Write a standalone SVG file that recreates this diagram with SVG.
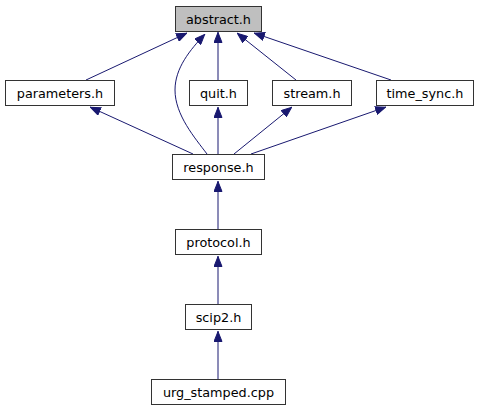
<svg xmlns="http://www.w3.org/2000/svg" width="480" height="411" viewBox="0 0 480 411">
<style>
.box{fill:#ffffff;stroke:#333333;stroke-width:1}
.root{fill:#bfbfbf}
.lbl{font-family:"DejaVu Sans",sans-serif;font-size:12.8px;fill:#000000;text-anchor:middle}
.edge{fill:none;stroke:#191970;stroke-width:1;marker-end:url(#arr)}
</style>
<defs>
<marker id="arr" viewBox="0 0 11 9" refX="11" refY="4.5" markerWidth="11" markerHeight="9" markerUnits="userSpaceOnUse" orient="auto">
<path d="M0.5,0.5 L10.5,4.5 L0.5,8.5 z" fill="#191970" stroke="#191970" stroke-width="1"/>
</marker>
</defs>
<rect width="480" height="411" fill="#ffffff"/>
<g id="connectors">
<path class="edge" d="M86,80 L187,33"/>
<path class="edge" d="M207,154 C195,138 175,115 175,90 C175,68 190,50 205,34"/>
<path class="edge" d="M218,80 L218,32"/>
<path class="edge" d="M296,80 L237,33"/>
<path class="edge" d="M391,80 L254,33"/>
<path class="edge" d="M193,154 L90,107"/>
<path class="edge" d="M218,154 L218,107"/>
<path class="edge" d="M234,154 L292,107"/>
<path class="edge" d="M251,154 L386,107"/>
<path class="edge" d="M218,229 L218,181"/>
<path class="edge" d="M218,304 L218,256"/>
<path class="edge" d="M218,379 L218,331"/>
</g>
<g id="abstract_h"><rect class="box root" x="175.5" y="6.5" width="86" height="25"/><text class="lbl" x="218.5" y="23.5">abstract.h</text></g>
<g id="parameters_h"><rect class="box" x="5.5" y="80.5" width="109" height="25"/><text class="lbl" x="60" y="97.5">parameters.h</text></g>
<g id="quit_h"><rect class="box" x="189.5" y="80.5" width="58" height="25"/><text class="lbl" x="218.5" y="97.5">quit.h</text></g>
<g id="stream_h"><rect class="box" x="272.5" y="80.5" width="79" height="25"/><text class="lbl" x="312" y="97.5">stream.h</text></g>
<g id="time_sync_h"><rect class="box" x="376.5" y="80.5" width="97" height="25"/><text class="lbl" x="425" y="97.5">time_sync.h</text></g>
<g id="response_h"><rect class="box" x="172.5" y="154.5" width="92" height="25"/><text class="lbl" x="218.5" y="171.5">response.h</text></g>
<g id="protocol_h"><rect class="box" x="175.5" y="229.5" width="86" height="25"/><text class="lbl" x="218.5" y="246.5">protocol.h</text></g>
<g id="scip2_h"><rect class="box" x="185.5" y="304.5" width="66" height="25"/><text class="lbl" x="218.5" y="321.5">scip2.h</text></g>
<g id="urg_stamped_cpp"><rect class="box" x="151.5" y="379.5" width="134" height="25"/><text class="lbl" x="218.5" y="396.5">urg_stamped.cpp</text></g>
</svg>
